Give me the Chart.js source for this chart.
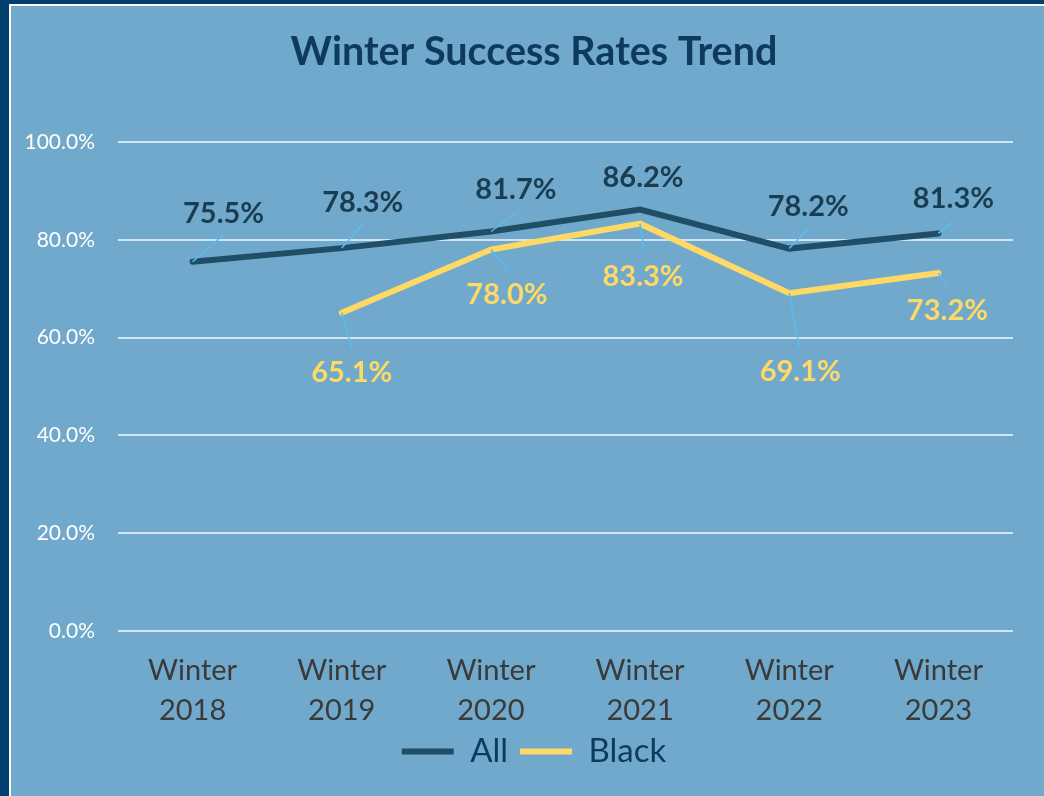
<!DOCTYPE html>
<html>
<head>
<meta charset="utf-8">
<script src="https://cdn.jsdelivr.net/npm/chart.js@4.4.1/dist/chart.umd.min.js"></script>
<style>
  html, body { margin: 0; padding: 0; background: #013f6e; width: 1044px; height: 796px; overflow: hidden; }
  #frame { position: absolute; left: 9px; top: 4px; width: 1100px; height: 900px; border: 2px solid #ffffff; background: #70a9cc; }
  #wrap { position: absolute; left: 0; top: 0; width: 1044px; height: 796px; }
</style>
</head>
<body>
<div id="frame"></div>
<div id="wrap"><canvas id="c" width="1044" height="796"></canvas></div>
<script>
// ---- data ----
const categories = [['Winter', '2018'], ['Winter', '2019'], ['Winter', '2020'], ['Winter', '2021'], ['Winter', '2022'], ['Winter', '2023']];
const allRates = [75.5, 78.3, 81.7, 86.2, 78.2, 81.3];
const blackRates = [null, 65.1, 78.0, 83.3, 69.1, 73.2];
const seriesNames = ['All', 'Black'];
const yTicks = [0, 20, 40, 60, 80, 100];

// ---- label placement (style, pixel offsets from the point) ----
const allLabelOffsets = [[31, -48], [21, -45], [25, -42], [3, -32], [19, -42], [15, -35]];
const allLeaderEnds = [[31, -27], [21, -24], [26, -19], null, [19, -20], [15, -12]];
const blackLabelOffsets = [null, [10, 60], [16, 45], [3, 53], [11, 79], [9, 38]];
const blackLeaderEnds = [null, [10, 35], [17, 20], [4, 26], [10, 54], [9, 13]];

const FONT = 'Lato, "Open Sans", sans-serif';
const NAVY = '#1f4e66';
const YELLOW = '#ffd966';

const labelPlugin = {
  id: 'pointLabels',
  afterDatasetsDraw(chart) {
    const ctx = chart.ctx;
    const cfgs = [
      { offs: allLabelOffsets, leads: allLeaderEnds, color: '#1b3d52' },
      { offs: blackLabelOffsets, leads: blackLeaderEnds, color: YELLOW }
    ];
    chart.data.datasets.forEach((ds, di) => {
      const meta = chart.getDatasetMeta(di);
      const c = cfgs[di];
      meta.data.forEach((pt, i) => {
        const v = ds.data[i];
        if (v === null || v === undefined) return;
        const off = c.offs[i];
        const lead = c.leads[i];
        ctx.save();
        if (lead) {
          ctx.strokeStyle = '#5bbcf2';
          ctx.lineWidth = 1.5;
          ctx.beginPath();
          ctx.moveTo(pt.x, pt.y);
          ctx.lineTo(pt.x + lead[0], pt.y + lead[1]);
          ctx.stroke();
        }
        ctx.fillStyle = c.color;
        ctx.font = 'bold 29px ' + FONT;
        ctx.textAlign = 'center';
        ctx.textBaseline = 'middle';
        ctx.fillText(v.toFixed(1) + '%', pt.x + off[0], pt.y + off[1]);
        ctx.restore();
      });
    });
  }
};

new Chart(document.getElementById('c'), {
  type: 'line',
  data: {
    labels: categories,
    datasets: [
      { label: seriesNames[0], data: allRates, borderColor: NAVY, backgroundColor: NAVY, borderWidth: 6, pointRadius: 0, borderCapStyle: 'round', borderJoinStyle: 'miter', tension: 0 },
      { label: seriesNames[1], data: blackRates, borderColor: YELLOW, backgroundColor: YELLOW, borderWidth: 6, pointRadius: 0, borderCapStyle: 'round', borderJoinStyle: 'miter', tension: 0 }
    ]
  },
  options: {
    responsive: false,
    animation: false,
    layout: { padding: { left: 0, right: -24, top: 0, bottom: 18 } },
    plugins: {
      title: {
        display: true,
        text: 'Winter Success Rates Trend',
        color: '#0e3a5c',
        font: { family: FONT, size: 39.5, weight: 'bold' },
        padding: { top: 29, bottom: 65.6 }
      },
      legend: {
        position: 'bottom',
        labels: {
          color: '#0e3a5c',
          font: { family: FONT, size: 33 },
          boxWidth: 52,
          boxHeight: 6,
          useBorderRadius: true,
          borderRadius: 3,
          padding: 12,
          generateLabels(chart) {
            return chart.data.datasets.map((d, i) => ({
              text: d.label, fillStyle: d.borderColor, strokeStyle: d.borderColor,
              lineWidth: 0, datasetIndex: i, fontColor: '#0e3a5c'
            }));
          }
        }
      },
      tooltip: { enabled: false }
    },
    scales: {
      x: {
        offset: true,
        grid: { display: false, drawTicks: false },
        border: { display: false },
        ticks: { color: '#3a3a3a', font: { family: FONT, size: 29, lineHeight: 1.38 }, padding: 20, maxRotation: 0 },
        afterFit(scale) { scale.height = 92; }
      },
      y: {
        min: 0, max: 100,
        afterBuildTicks(scale) { scale.ticks = yTicks.map(v => ({ value: v })); },
        grid: { color: '#cfe5f6', lineWidth: 2, drawTicks: false },
        border: { display: false },
        ticks: { color: '#ffffff', font: { family: FONT, size: 21 }, padding: 23, callback: v => v.toFixed(1) + '%' },
        afterFit(scale) { scale.width = 118; }
      },
      yRightSpace: {
        position: 'right',
        min: 0, max: 100,
        grid: { display: false, drawTicks: false },
        border: { display: false },
        ticks: { display: false },
        afterFit(scale) { scale.width = 55; }
      }
    }
  },
  plugins: [labelPlugin]
});
</script>
</body>
</html>
